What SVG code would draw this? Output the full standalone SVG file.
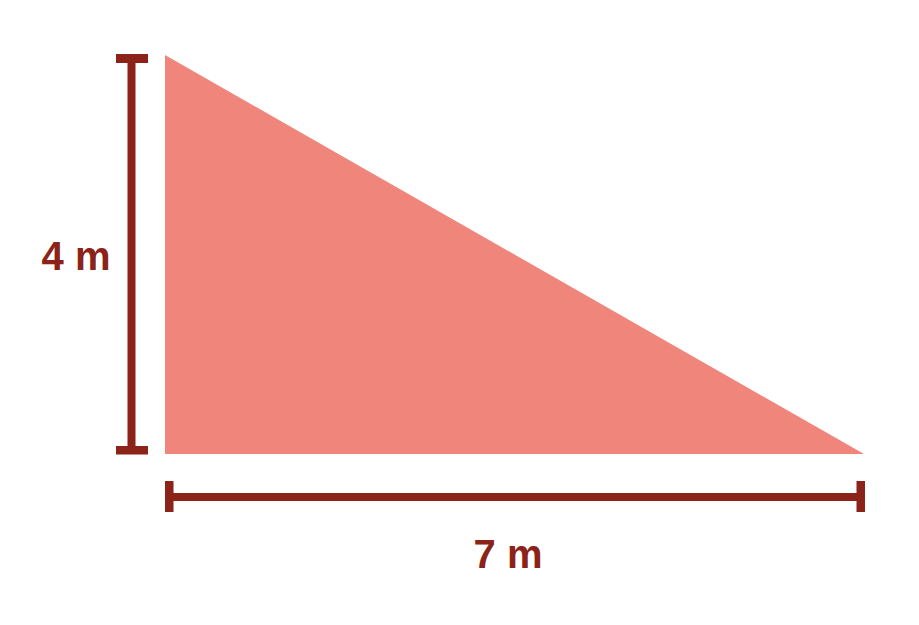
<svg xmlns="http://www.w3.org/2000/svg" width="919" height="625" viewBox="0 0 919 625">
<style>
.dim{fill:#8B2318}
.lbl{font-family:"Liberation Sans",Arial,sans-serif;font-weight:bold;font-size:40px;fill:#8B2318;text-anchor:middle}
</style>
<rect width="919" height="625" fill="#fff"/>
<g id="triangle">
<polygon points="165,55 165,454 864,454" fill="#F0857C"/>
</g>
<g id="connectors">
<g id="height-dim">
<rect class="dim" x="127.5" y="56" width="8" height="396"/>
<rect class="dim" x="116" y="54" width="32" height="9"/>
<rect class="dim" x="116" y="446" width="32" height="8.5"/>
</g>
<g id="base-dim">
<rect class="dim" x="167" y="493" width="694" height="8"/>
<rect class="dim" x="165" y="481" width="8.5" height="31"/>
<rect class="dim" x="856.5" y="481" width="8.5" height="31"/>
</g>
</g>
<g id="label-height"><text class="lbl" x="76" y="270">4 m</text></g>
<g id="label-base"><text class="lbl" x="508" y="568">7 m</text></g>
</svg>
